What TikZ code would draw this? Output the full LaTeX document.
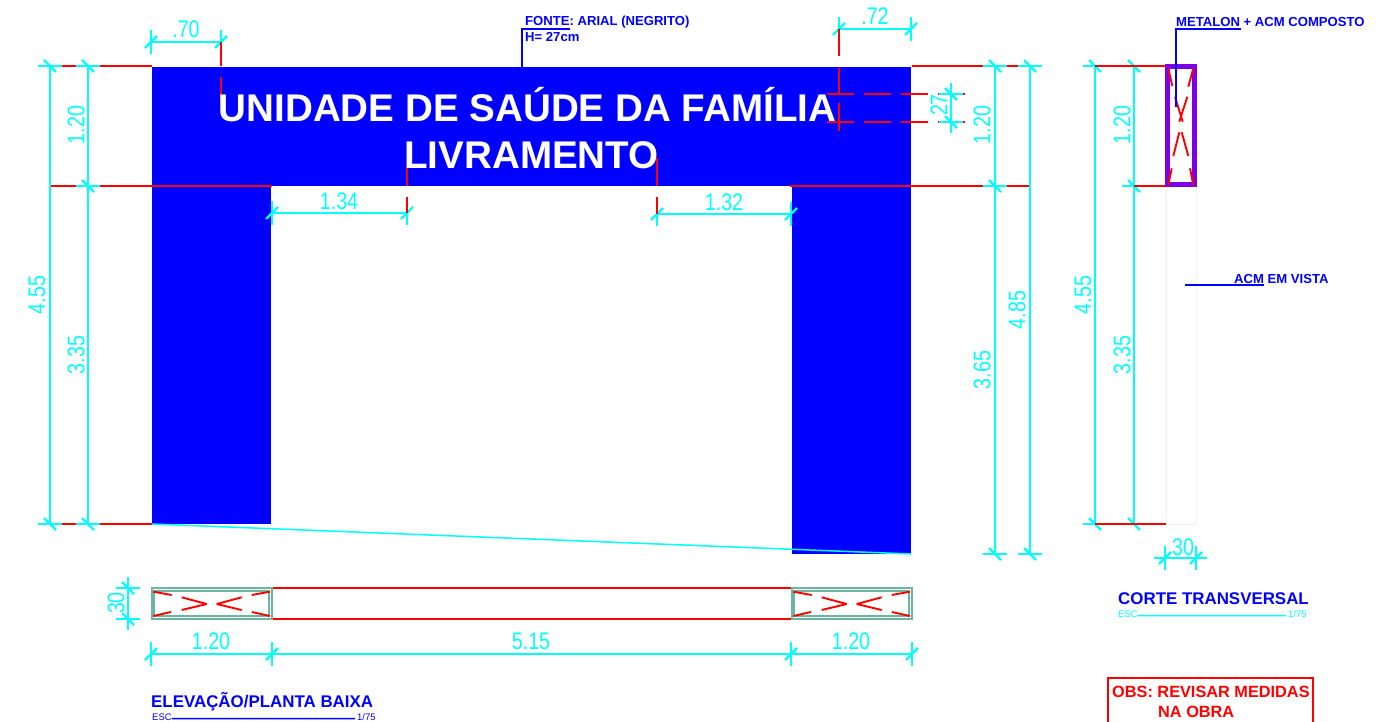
\documentclass[tikz,border=0pt]{standalone}
\usepackage{fontspec}
\usetikzlibrary{calc}
\setmainfont{Liberation Sans}
\newfontfamily\dimfont[FakeStretch=0.82]{Liberation Sans}
\definecolor{acmblue}{RGB}{0,0,255}
\definecolor{dimcyan}{RGB}{0,255,255}
\definecolor{cutred}{RGB}{255,0,0}
\definecolor{metalon}{RGB}{123,0,232}
\definecolor{platgreen}{RGB}{108,182,160}
\tikzset{
    dimline/.style={dimcyan, line width=1.5pt},
    slash/.style={dimcyan, line width=2.4pt},
    extline/.style={cutred, line width=1.7pt},
    xline/.style={cutred, line width=1.9pt},
    leader/.style={acmblue, line width=1.5pt},
    dimtext/.style={dimcyan, inner sep=0pt, font=\dimfont\fontsize{24}{24}\selectfont},
    labeltext/.style={acmblue, inner sep=0pt, anchor=base west, font=\bfseries\fontsize{13.1}{14}\selectfont},
    titletext/.style={acmblue, inner sep=0pt, anchor=base west, font=\bfseries\fontsize{16.9}{17}\selectfont},
    esctext/.style={inner sep=0pt, anchor=base west, font=\fontsize{9.5}{10}\selectfont},
    signtext/.style={white, inner sep=0pt, anchor=base, font=\bfseries\fontsize{38.6}{39}\selectfont},
    obstext/.style={cutred, inner sep=0pt, anchor=base west, font=\bfseries\fontsize{16.3}{17}\selectfont}
}

\begin{document}
\begin{tikzpicture}[x=1pt, y=-1pt]
    \useasboundingbox (0,0) rectangle (1391,722);

    % Blue panel and legs
    \fill[acmblue] (152,67) rectangle (911,186);
    \fill[acmblue] (152,186) rectangle (271,524);
    \fill[acmblue] (792,186) rectangle (911,554);

    % Section ghost lines
    \draw[black!6, line width=0.6pt] (1166,187) -- (1166,524) -- (1196,524) -- (1196,187);

    % Section: dimensions under the red lines
    \draw[dimline] (1095,66) -- (1095,524);
    \draw[dimline] (1134,66) -- (1134,524);
    \foreach \x/\y in {1095/66, 1134/66, 1134/186, 1095/524, 1134/524} {
        \draw[dimline] (\x-12,\y) -- (\x+12,\y);
        \draw[slash] (\x-6,\y-6) -- (\x+6,\y+6);
    }
    \draw[extline] (1095,66) -- (1165,66);
    \draw[extline] (1134,186) -- (1165,186);
    \draw[extline] (1095,524) -- (1166,524);

    % Red extension lines
    \draw[extline] (50,66) -- (152,66);
    \draw[extline] (50,186) -- (272,186);
    \draw[extline] (50,524) -- (152,524);
    \draw[extline] (790,186) -- (1030,186);
    \draw[extline] (912,66) -- (1030,66);

    % Dashed height of the letters
    \foreach \y in {94,122} {
        \draw[extline, dash pattern=on 27pt off 10pt] (827,\y) -- (965,\y);
    }

    % Vertical dimensions
    \foreach \x/\a/\b in {50/66/524, 88/66/524, 995/66/554, 1030/66/554, 951/83/133, 128/577/630} {
        \draw[dimline] (\x,\a) -- (\x,\b);
    }
    \foreach \x/\y in {50/66, 88/66, 88/186, 50/524, 88/524, 995/66, 1030/66, 995/186, 995/554, 1030/554, 951/94, 951/122, 128/588, 128/619} {
        \draw[dimline] (\x-12,\y) -- (\x+12,\y);
        \draw[slash] (\x-6,\y-6) -- (\x+6,\y+6);
    }

    % Horizontal dimensions
    \foreach \y/\a/\b in {42/151/221, 29/839/911, 213/272/407, 214/657/791, 654/151/912, 558/1154/1207} {
        \draw[dimline] (\a,\y) -- (\b,\y);
    }
    \foreach \x/\y in {151/42, 221/42, 839/29, 911/29, 272/213, 407/213, 657/214, 791/214, 151/654, 272/654, 791/654, 912/654, 1165/558, 1196/558} {
        \draw[dimline] (\x,\y-12) -- (\x,\y+12);
        \draw[slash] (\x-6,\y+6) -- (\x+6,\y-6);
    }
    \draw[dimline] (152,524) -- (911,554);

    % Vertical red lines, over the ticks
    \foreach \x/\a/\b in {221/42/66, 221/77/101, 839/29/56, 839/68/94, 839/103/131, 407/168/186, 407/197/213, 657/158/186, 657/197/214} {
        \draw[extline] (\x,\a) -- (\x,\b);
    }

    % Dimension labels
    \node[dimtext] (dimA) at (186,29) {.70};
    \node[dimtext] (dimB) at (875,16) {.72};
    \node[dimtext] (dimC) at (339,201) {1.34};
    \node[dimtext] (dimD) at (724,202) {1.32};
    \node[dimtext] (dimE) at (211,641) {1.20};
    \node[dimtext] (dimF) at (531,641) {5.15};
    \node[dimtext] (dimG) at (851,641) {1.20};
    \node[dimtext] (dimH) at (1183,547) {30};
    \node[dimtext, rotate=90] (dimI) at (37,295) {4.55};
    \node[dimtext, rotate=90] (dimJ) at (76,125) {1.20};
    \node[dimtext, rotate=90] (dimK) at (76,355) {3.35};
    \node[dimtext, rotate=90] (dimL) at (982,125) {1.20};
    \node[dimtext, rotate=90] (dimM) at (982,370) {3.65};
    \node[dimtext, rotate=90] (dimN) at (1017,310) {4.85};
    \node[dimtext, rotate=90] (dimO) at (1083,295) {4.55};
    \node[dimtext, rotate=90] (dimP) at (1122,125) {1.20};
    \node[dimtext, rotate=90] (dimQ) at (1122,355) {3.35};
    \node[dimtext, rotate=90] (dimR) at (939,105) {27};
    \node[dimtext, rotate=90] (dimS) at (116,603) {30};

    % Sign text
    \node[signtext] (signA) at (527.5,122) {UNIDADE DE SAÚDE DA FAMÍLIA};
    \node[signtext] (signB) at (531.5,168) {LIVRAMENTO};

    % Plan view
    \draw[extline] (271,588) -- (792,588);
    \draw[extline] (271,619) -- (792,619);
    \foreach \x in {0,640} {
        \begin{scope}[xshift=\x]
            \draw[platgreen, line width=2pt] (151.5,588) rectangle (271.5,619);
            \draw[platgreen, line width=2pt] (154,591) rectangle (269,616);
            \foreach \a/\b/\c/\d in {153.3/591.7/171.7/595, 181.7/597.3/206.7/604, 153.3/616/171/612, 181.7/610/206.7/604,
                                     270/591.7/251.7/595, 241.7/597.3/216.7/604, 270/616/251.7/612, 241.7/610/216.7/604} {
                \draw[xline] (\a,\b) -- (\c,\d);
            }
        \end{scope}
    }

    % Section: metalon tube
    \draw[metalon, line width=5pt] (1167.5,67) rectangle (1194.5,184.5);
    \foreach \a/\b/\c/\d in {1168.3/68.3/1172.3/86, 1175/96.7/1182.7/121.7, 1193.3/68.3/1188.3/86.7, 1187.3/96.7/1179.3/121.7,
                             1179.3/132.3/1173.3/156, 1181.7/132.3/1188.3/156, 1171.7/168.3/1168.3/185, 1190/168.3/1193.3/185} {
        \draw[xline] (\a,\b) -- (\c,\d);
    }

    % Leaders
    \coordinate (panelTop) at (522,67);
    \coordinate (fontBend) at (522,29);
    \coordinate (fontEnd) at (570,29);
    \draw[leader] (panelTop) -- (fontBend) -- (fontEnd);
    \coordinate (tubeTip) at (1176,107);
    \coordinate (tubeBend) at (1176,29);
    \coordinate (tubeEnd) at (1241,29);
    \draw[leader] (tubeTip) -- (tubeBend) -- (tubeEnd);
    \coordinate (acmStart) at (1185,285);
    \coordinate (acmEnd) at (1264,285);
    \draw[leader] (acmStart) -- (acmEnd);

    % Notes
    \node[labeltext] (fontNote) at (525,26) {FONTE: ARIAL (NEGRITO)};
    \node[labeltext] (fontHeight) at (525,42) {H= 27cm};
    \node[labeltext] (tubeNote) at (1176,27) {METALON + ACM COMPOSTO};
    \node[labeltext] (acmNote) at (1234,283) {ACM EM VISTA};

    % Titles
    \node[titletext] (planTitle) at (151,707.5) {ELEVAÇÃO/PLANTA BAIXA};
    \node[esctext, acmblue] (planEsc) at (152,720) {ESC};
    \node[esctext, acmblue] (planScale) at (357,720) {1/75};
    \draw[leader] ($(planEsc.east)+(0,2)$) -- ($(planScale.west)+(-2,2)$);
    \node[titletext] (cutTitle) at (1118,604) {CORTE TRANSVERSAL};
    \node[esctext, dimcyan] (cutEsc) at (1118,617) {ESC};
    \node[esctext, dimcyan] (cutScale) at (1288,617) {1/75};
    \draw[dimcyan, line width=1.5pt] ($(cutEsc.east)+(0,2)$) -- ($(cutScale.west)+(-2,2)$);

    % Site note
    \draw[cutred, line width=1.7pt] (1108,730) -- (1108,678) -- (1313,678) -- (1313,730);
    \node[obstext] (obsA) at (1112,697) {OBS: REVISAR MEDIDAS};
    \node[obstext] (obsB) at (1158,717) {NA OBRA};
\end{tikzpicture}
\end{document}
